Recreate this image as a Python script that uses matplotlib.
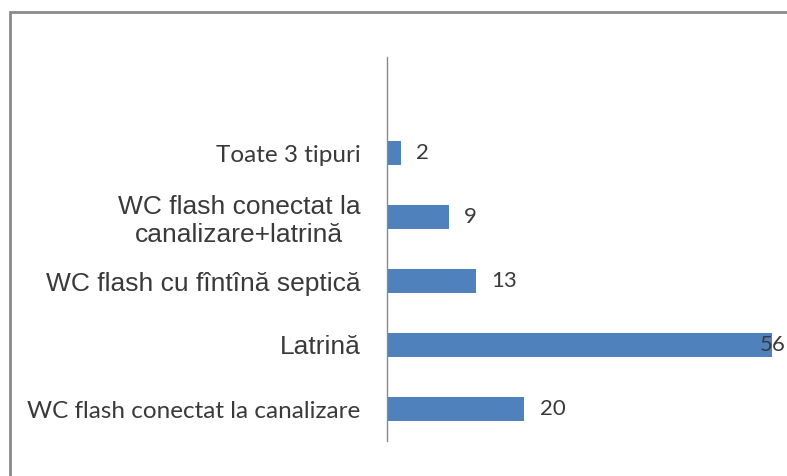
import matplotlib.pyplot as plt
from matplotlib.patches import Rectangle

# categories listed bottom -> top, as the chart shows them
categories = ['WC flash conectat la canalizare',
              'Latrină',
              'WC flash cu fîntînă septică',
              'WC flash conectat la\ncanalizare+latrină',
              'Toate 3 tipuri']
values = [20, 56, 13, 9, 2]
# two fonts mixed in the original: Calibri-like and Arial-like labels
label_fonts = ['Lato', 'Liberation Sans', 'Liberation Sans', 'Liberation Sans', 'Lato']
label_sizes = [17.5, 19, 19, 19, 17.5]

bar_color = '#4F81BD'
text_color = '#3a3a3a'

fig = plt.figure(figsize=(7.87, 4.76), dpi=100)

# grey outer frame (runs off the right and bottom edges)
fig.patches.append(Rectangle((9.5 / 787, -0.1), 1.2, 1 - 11.5 / 476 + 0.1,
                             transform=fig.transFigure, fill=False,
                             edgecolor='#8a8a8a', linewidth=2.0))

ax = fig.add_axes([387 / 787, 1 - 441 / 476, 400 / 787, 384 / 476])
xmax = 400 / 6.87
ax.set_xlim(0, xmax)
ax.set_ylim(-0.5, 5.5)

pos = list(range(len(categories)))
ax.barh(pos, values, height=0.36, color=bar_color)

for p, v in zip(pos, values):
    lx = min(v + 2.2, xmax - 3.9)
    ax.text(lx, p, str(v), ha='left', va='center', fontsize=16,
            family='Lato', color=text_color, clip_on=False)

ax.set_yticks(pos)
ax.set_yticklabels(categories)
for lab, fam, sz in zip(ax.get_yticklabels(), label_fonts, label_sizes):
    lab.set_fontfamily(fam)
    lab.set_fontsize(sz)
    lab.set_color(text_color)
    lab.set_multialignment('center')
ax.tick_params(axis='y', length=0, pad=19)
ax.set_xticks([])

for s in ['top', 'right', 'bottom']:
    ax.spines[s].set_visible(False)
ax.spines['left'].set_color('#8a8a8a')
ax.spines['left'].set_linewidth(1.0)

fig.savefig('out.png', dpi=100)
